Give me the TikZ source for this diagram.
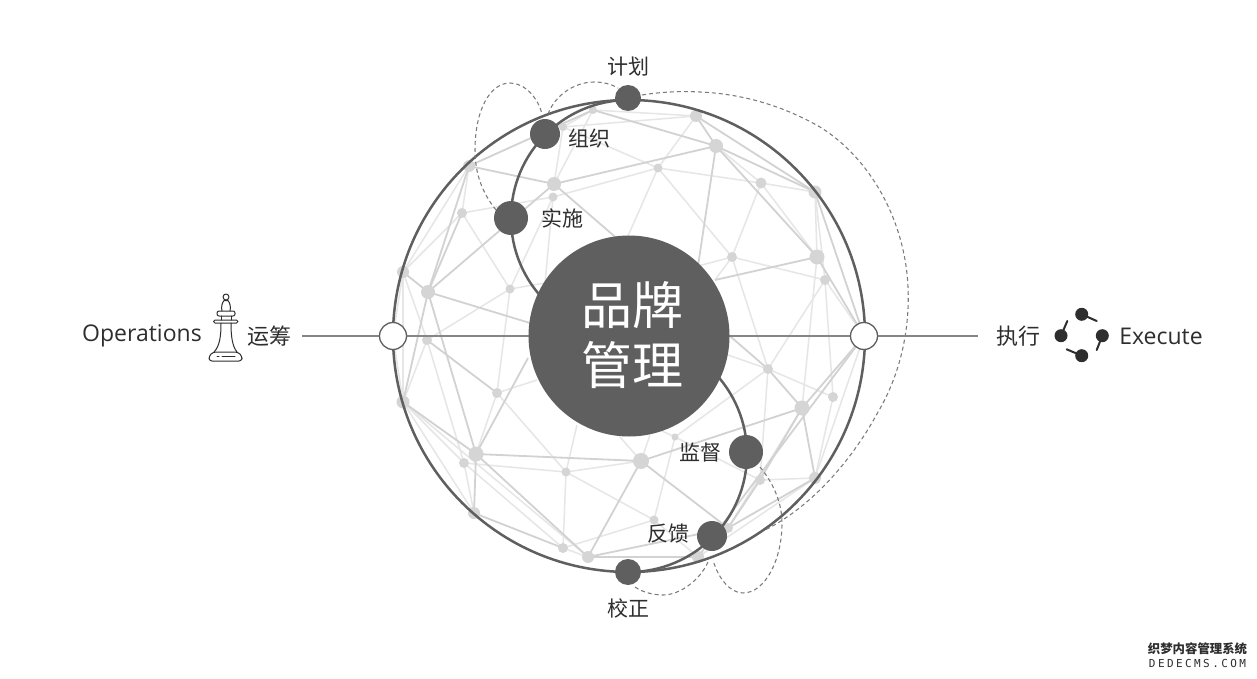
\documentclass[tikz,border=0pt]{standalone}
\usepackage{fontspec}
\setmainfont{Noto Sans CJK SC}
\newfontfamily\latinfont{Open Sans}
\newfontfamily\monofont{DejaVu Sans Mono}
\usetikzlibrary{backgrounds}
\definecolor{dk}{HTML}{5F5F5F}
\definecolor{ink}{HTML}{2E2E2E}
\definecolor{netc}{HTML}{D5D5D5}
\definecolor{edgeAc}{HTML}{D2D2D2}
\definecolor{edgeBc}{HTML}{E6E6E6}
\definecolor{loopc}{HTML}{7A7A7A}
\tikzset{
 netdot/.style={circle,fill=netc,inner sep=0pt,outer sep=0pt},
 edgeA/.style={draw=edgeAc,line width=1.8pt},
 edgeB/.style={draw=edgeBc,line width=1.5pt},
 hubdot/.style={circle,fill=dk,inner sep=0pt,outer sep=0pt},
 ringdot/.style={circle,fill=white,draw=dk,line width=1.3pt,minimum size=27pt,inner sep=0pt},
 loopline/.style={draw=loopc,line width=1.05pt,dash pattern=on 4pt off 3pt},
 darkline/.style={draw=dk,line width=2.5pt},
 lab/.style={text=ink,inner sep=0pt,font=\fontsize{21}{25}\selectfont},
 icon/.style={draw=ink,line width=1pt,line join=round,line cap=round},
 exdot/.style={circle,fill=ink,inner sep=0pt,minimum size=13pt},
 extail/.style={draw=ink,line width=2pt,line cap=round},
}
\begin{document}
\begin{tikzpicture}[x=1pt,y=-1pt]
\useasboundingbox (0,0) rectangle (1257,679);
\begin{scope}[on background layer]
\fill[white] (0,0) rectangle (1257,679);
\end{scope}
% network dots
\foreach \n/\x/\y/\d in {A/469/166/12,B/554/184/14,C/553/197/9,D/462/213/10,E/403/272/12,F/428/292/14,G/510/289/9,H/427/340/10,I/563/127/8,J/593/110/8,K/696/116/12,L/716/146/14,M/658/168/9,N/761/183/11,O/815/192/13,P/817/257/15,Q/825/280/10,R/732/257/10,S/497/393/10,T/403/402/13,U/476/454/15,V/464/463/10,W/566/472/9,X/641/461/16,Y/474/513/12,Z/563/548/10,AA/588/557/12,AB/768/369/10,AC/802/408/15,AD/833/397/10,AE/675/437/7,AG/760/480/10,AH/815/478/12,AI/654/520/9,AJ/728/528/10,AK/698/557/12}
  \node[netdot,minimum size=\d pt] (\n) at (\x,\y) {};
% hidden ends of the net under the hub
\foreach \n/\x/\y in {ca/698/266,cb/715/280,cc/628/236,cd/545/283,ce/530/323,cf/537/380,cg/528/358,ch/577/425,ci/620/437,cj/650/435,ck/728/355,cl/662/431}
  \coordinate (\n) at (\x,\y);
\coordinate (RR) at (864,336);
\coordinate (LL) at (393,336);
\begin{scope}[on background layer]
\foreach \a/\b in {A/D,A/E,E/D,D/C,D/G,G/cd,C/cd,C/G,G/H,G/S,I/B,J/B,J/K,J/I,I/K,C/M,K/M,I/M,M/R,M/N,N/O,M/cc,R/ca,R/cb,R/Q,R/AB,N/R,L/N,N/P,O/P,O/Q,Q/RR,Q/AD,P/AC,Q/AB,AB/AD,AB/AE,AB/AG,AB/ck,AD/AH,AG/AH,AC/AJ,AG/AE,AE/AI,AE/cl,W/X,W/AI,AI/AK,Z/AI,W/Z,S/W,S/cf,H/V,E/H,E/T,LL/E,LL/T,H/T,T/V,T/Y,V/Y,V/Z,V/W,T/AA,X/ci,X/cj,W/ch,Z/AA,RR/AH,AK/AH,S/U}
  \draw[edgeB] (\a.center) -- (\b.center);
\foreach \a/\b in {A/B,A/J,A/F,E/F,F/B,D/F,F/ce,F/T,F/U,J/L,B/L,K/L,L/ca,L/O,L/P,K/O,O/RR,P/RR,P/cb,AC/RR,AC/AG,AC/AH,AC/AB,AC/X,B/AB,AG/AJ,AH/AJ,X/AJ,X/U,X/AA,U/cg,H/S,T/U,U/AA,U/Y,Y/Z,AA/AJ,AA/AK,RR/AK}
  \draw[edgeA] (\a.center) -- (\b.center);
\end{scope}
% outer circle
\node[circle,draw=dk,line width=2.5pt,minimum size=472pt,inner sep=0pt] (globe) at (629,336) {};
% dashed loops
\coordinate (la) at (496,210); \coordinate (lb) at (542,114);
\coordinate (lc) at (548,114); \coordinate (ld) at (618,88);
\coordinate (le) at (642,95);  \coordinate (lf) at (765,530);
\coordinate (lg) at (760,467); \coordinate (lh) at (713,560);
\coordinate (li) at (708,562); \coordinate (lj) at (635,587);
\draw[loopline] (la) .. controls (480,190) and (475,170) .. (475,150) .. controls (475,110) and (490,83) .. (510,83) .. controls (525,83) and (538,98) .. (lb);
\draw[loopline] (lc) .. controls (555,95) and (575,82) .. (594,82) .. controls (603,82) and (611,84) .. (ld);
\draw[loopline] (le) .. controls (660,92) and (680,91) .. (700,92) .. controls (745,94) and (785,107) .. (820,127) .. controls (870,158) and (905,220) .. (908,287) .. controls (910,330) and (900,375) .. (878,412) .. controls (855,455) and (815,505) .. (lf);
\draw[loopline] (lg) .. controls (775,485) and (782,505) .. (782,523) .. controls (782,560) and (765,593) .. (743,593) .. controls (730,593) and (718,578) .. (lh);
\draw[loopline] (li) .. controls (700,580) and (680,595) .. (663,595) .. controls (653,595) and (642,592) .. (lj);
% yin-yang arcs
\coordinate (topc) at (629,100);
\coordinate (botc) at (629,572);
\draw[darkline] (topc) arc[start angle=90,end angle=270,radius=118pt];
\draw[darkline] (botc) arc[start angle=-90,end angle=90,radius=118pt];
% axis
\coordinate (axl) at (302,336);
\coordinate (axr) at (978,336);
\draw[draw=gray!95,line width=1.4pt] (axl) -- (axr);
% ring dots
\node[ringdot] (lring) at (393,336) {};
\node[ringdot] (rring) at (864,336) {};
% hub
\node[hubdot,minimum size=201pt] (hub) at (629,336) {};
\node[text=white,inner sep=0pt,font=\fontsize{51}{60}\selectfont] (hubt1) at (632,305) {品牌};
\node[text=white,inner sep=0pt,font=\fontsize{51}{60}\selectfont] (hubt2) at (632,365) {管理};
% dark dots
\node[hubdot,minimum size=26pt] (jh) at (628,98) {};
\node[hubdot,minimum size=30pt] (zz) at (545,134) {};
\node[hubdot,minimum size=34pt] (ss) at (511,218) {};
\node[hubdot,minimum size=34pt] (jd) at (746,452) {};
\node[hubdot,minimum size=30pt] (fk) at (712,536) {};
\node[hubdot,minimum size=26pt] (jz) at (628,572) {};
% labels
\node[lab] (t1) at (628.5,67) {计划};
\node[lab] (t2) at (589.5,138.5) {组织};
\node[lab] (t3) at (562.5,218) {实施};
\node[lab] (t4) at (700,452) {监督};
\node[lab] (t5) at (668.5,534) {反馈};
\node[lab] (t6) at (628.5,608) {校正};
\node[lab,font=\fontsize{22}{26}\selectfont] (t7) at (269,336.5) {运筹};
\node[lab,font=\fontsize{22}{26}\selectfont] (t8) at (1018,336.5) {执行};
\node[lab,font=\fontsize{23}{27}\selectfont\latinfont] (t9) at (142,336) {Operations};
\node[lab,font=\fontsize{23}{27}\selectfont\latinfont] (t10) at (1161,336) {Execute};
% chess icon
\draw[icon] (226,297) circle[radius=3pt];
\draw[icon] (222,311) .. controls (221,307) and (222,303) .. (224,300.5) -- (228,300.5) .. controls (230,303) and (231,307) .. (230,311);
\draw[icon,rounded corners=2pt] (217,311) rectangle (235,316);
\draw[icon] (221,316) -- (221,320) (231,316) -- (231,320);
\draw[icon,rounded corners=1.5pt] (213.5,320) rectangle (238,323);
\draw[icon] (221,323) .. controls (221,335) and (220,346) .. (214,352);
\draw[icon] (231,323) .. controls (231,335) and (232,346) .. (237,352);
\draw[icon,rounded corners=3pt] (209,361) -- (209,356) -- (213,352) -- (238,352) -- (242,356) -- (242,361) -- cycle;
\draw[icon] (217,356.5) -- (219,356.5) (222,356.5) -- (235,356.5);
% execute icon
\node[exdot] (e1) at (1081.7,314.3) {};
\node[exdot] (e2) at (1061,335.7) {};
\node[exdot] (e3) at (1102.3,335.7) {};
\node[exdot] (e4) at (1081.7,355.7) {};
\coordinate (f1) at (1096.7,321);
\coordinate (f2) at (1067.3,321);
\coordinate (f3) at (1096.7,350);
\coordinate (f4) at (1066.7,349.3);
\draw[extail] (e1.center) -- (f1);
\draw[extail] (e2.center) -- (f2);
\draw[extail] (e3.center) -- (f3);
\draw[extail] (e4.center) -- (f4);
% watermark
\node[inner sep=0pt,text=ink,font=\fontsize{12.4}{14}\bfseries\selectfont] (w1) at (1197.5,649) {织梦内容管理系统};
\node[inner sep=0pt,text=ink,font=\fontsize{11}{13}\selectfont\monofont\addfontfeature{LetterSpace=22}] (w2) at (1197.5,663) {DEDECMS.COM};
\end{tikzpicture}
\end{document}
